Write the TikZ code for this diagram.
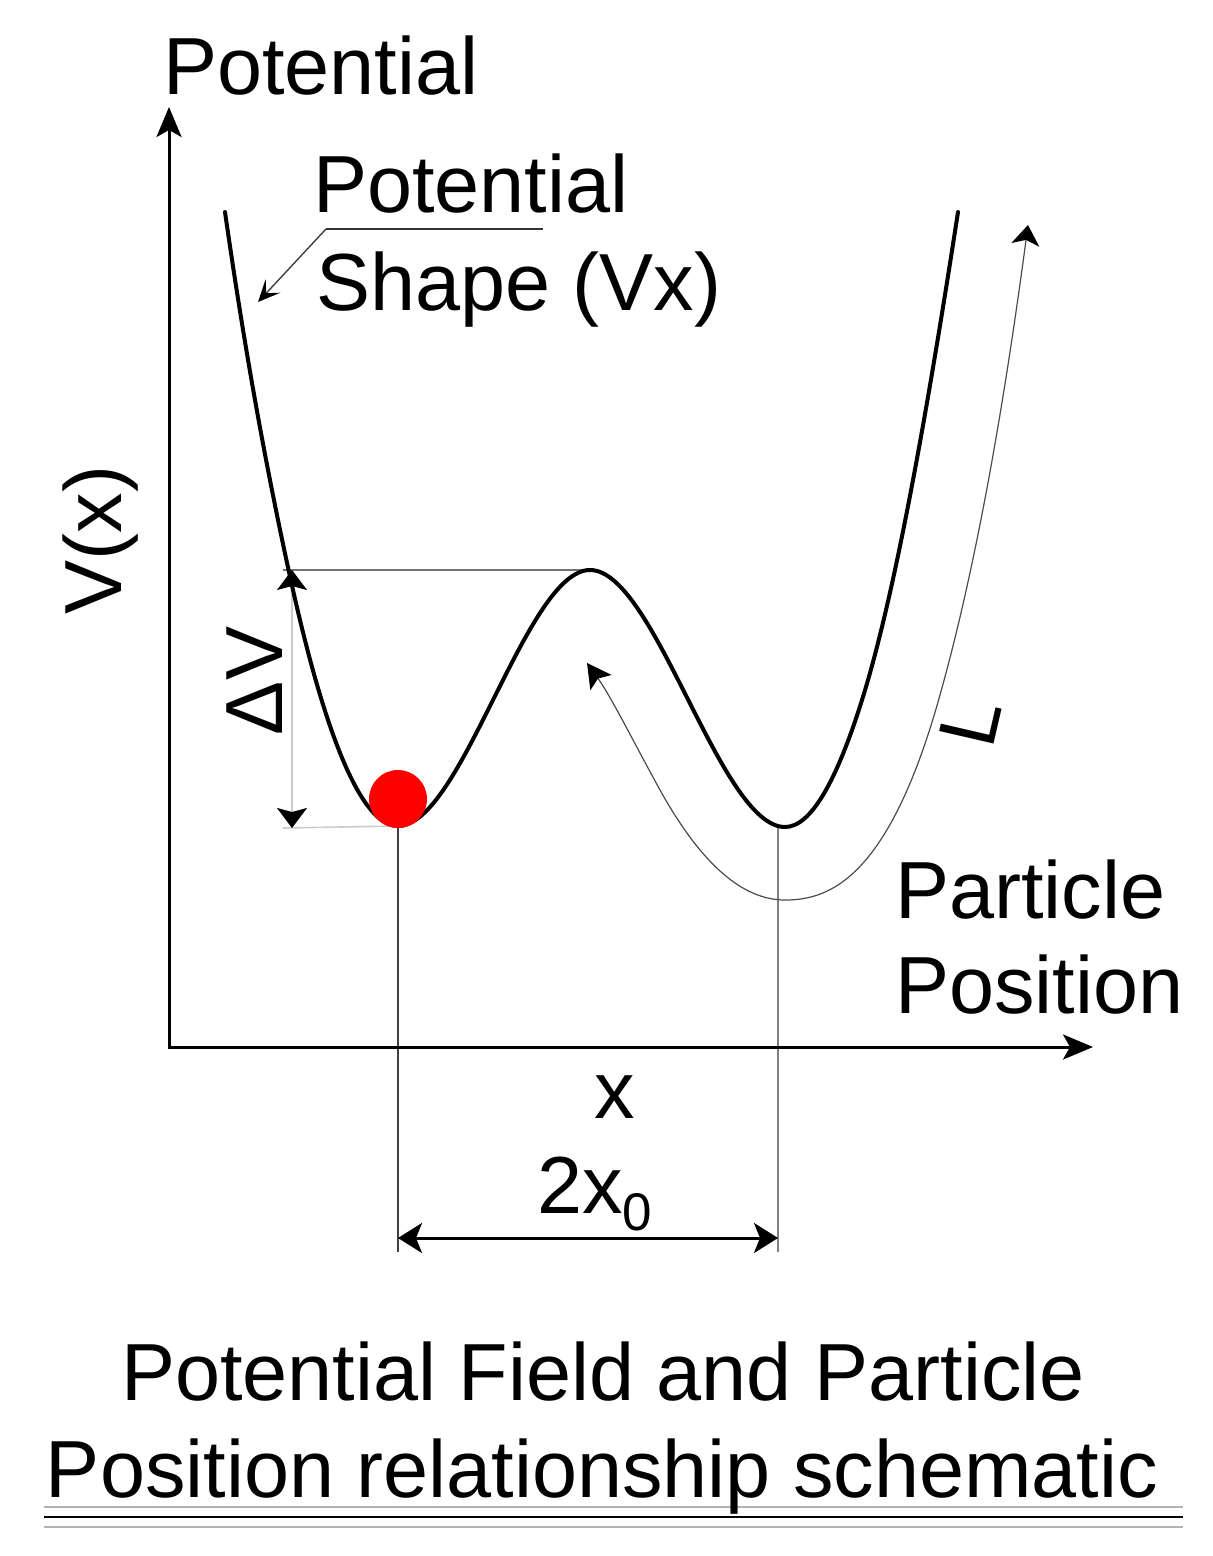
\documentclass[tikz,border=0pt]{standalone}
\usepackage{fontspec}
\setmainfont{Liberation Sans}
\usetikzlibrary{arrows.meta}
\begin{document}
\begin{tikzpicture}[x=0.5pt,y=-0.5pt,
  lbl/.style={inner sep=0pt,outer sep=0pt,font=\fontsize{40.5}{48}\selectfont},
  axisline/.style={line width=1.5pt,-{Stealth[length=15pt,width=12.5pt,inset=3.5pt]}},
  wellcurve/.style={line width=2pt,line join=round,line cap=round},
  pathcurve/.style={line width=0.6pt,draw=black!70,
     {Stealth[length=12pt,width=13pt,inset=2.5pt,color=black]}-{Stealth[length=10pt,width=14pt,inset=2.5pt,color=black]}},
  dimarrow/.style={line width=1.5pt,{Stealth[length=12pt,width=15pt,inset=3pt]}-{Stealth[length=12pt,width=15pt,inset=3pt]}},
  dvarrow/.style={line width=1pt,draw=black!20,{Stealth[length=10pt,width=15pt,inset=2pt,color=black]}-{Stealth[length=10pt,width=15pt,inset=2pt,color=black]}},
  guide/.style={line width=0.8pt},
  leader/.style={line width=0.7pt,draw=black!75,-{Stealth[length=11pt,width=10pt,inset=5pt,color=black]}}
]
\useasboundingbox (0,0) rectangle (1213,1556);
\path[fill=white] (0,0) rectangle (1213,1556);

% coordinates
\coordinate (O) at (169,1047);
\coordinate (Ytip) at (169,107);
\coordinate (Xtip) at (1093,1047);
\coordinate (Ltop) at (225,212);
\coordinate (Lknee) at (289,572);
\coordinate (Lmin) at (398,826);
\coordinate (Peak) at (590,570);
\coordinate (Rmin) at (785,827);
\coordinate (Rknee) at (862,700);
\coordinate (Rtop) at (958,212);
\coordinate (Rline) at (778,827);
\coordinate (DVtop) at (292,570);
\coordinate (DVbot) at (292,828);
\coordinate (Lfoot) at (398,1252);
\coordinate (Rfoot) at (778,1252);
\coordinate (Ldim) at (398,1238);
\coordinate (Rdim) at (778,1238);
\coordinate (LeadA) at (543,229);
\coordinate (LeadB) at (326,229);
\coordinate (LeadTip) at (258,302);
\coordinate (Pstart) at (587,663);
\coordinate (Pmid) at (660,790);
\coordinate (Pmin) at (785,900);
\coordinate (Pknee) at (938,702);
\coordinate (Pend) at (1028,225);

% helper lines
\draw[guide,draw=black!55] (283,570) -- (Peak);
\draw[guide,draw=black!20] (283,828) -- (Lmin);
\draw[guide,draw=black!75] (Lmin) -- (Lfoot);
\draw[guide,draw=black!50] (Rline) -- (Rfoot);
\draw[dvarrow] (DVbot) -- (DVtop);

% axes
\draw[axisline] (O) -- (Ytip);
\draw[axisline] ([xshift=-0.75pt]O) -- (Xtip);

% potential curve
\draw[wellcurve] (Ltop)
  .. controls (246.3,361) and (267.7,474) .. (Lknee)
  .. controls (325.3,739) and (362,826) .. (Lmin)
  .. controls (462,826) and (526,570) .. (Peak)
  .. controls (655,570) and (720,827) .. (Rmin)
  .. controls (810.7,827) and (836.3,782) .. (Rknee)
  .. controls (894,598) and (926,420) .. (Rtop);

% particle path
\draw[pathcurve] (Pstart)
  .. controls (611.3,697) and (635.7,746) .. (Pmid)
  .. controls (701.7,865) and (743,900) .. (Pmin)
  .. controls (828,900) and (887,880.5) .. (Pknee)
  .. controls (968,597) and (998,450) .. (Pend);

% particle
\fill[red] (398,799) circle[radius=14.5pt];

% 2x0 dimension
\draw[dimarrow] (Ldim) -- (Rdim);

% leader for potential shape
\draw[line width=0.8pt,draw=black!80] (LeadA) -- (LeadB);
\draw[leader] (LeadB) -- (LeadTip);

% bottom rules
\draw[line width=1pt,draw=black!30] (44,1507) -- (1183,1507);
\draw[line width=1.4pt,draw=black] (44,1517) -- (1183,1517);
\draw[line width=1pt,draw=black!30] (44,1527) -- (1183,1527);

% labels
\node[lbl,anchor=base west] (tPot) at (163,95) {Potential};
\node[lbl,anchor=base west] (tShape1) at (313,213) {Potential};
\node[lbl,anchor=base west] (tShape2) at (316,311) {Shape (Vx)};
\node[lbl,anchor=base,rotate=90] (tVx) at (121,540) {V(x)};
\node[lbl,anchor=base,rotate=90] (tDV) at (282,681) {ΔV};
\node[lbl,rotate=77] (tL) at (970,722) {L};
\node[lbl,anchor=base west] (tPart1) at (895,918) {Particle};
\node[lbl,anchor=base west] (tPart2) at (895,1013) {Position};
\node[lbl,anchor=base] (tx) at (615,1118) {x};
\node[lbl,anchor=base west] (t2x) at (537,1213) {2x\raisebox{-8.5pt}{\fontsize{26.5}{30}\selectfont 0}};
\node[lbl,anchor=base] (tTitle1) at (603,1400) {Potential Field and Particle};
\node[lbl,anchor=base] (tTitle2) at (602,1497) {Position relationship schematic};
\end{tikzpicture}
\end{document}
